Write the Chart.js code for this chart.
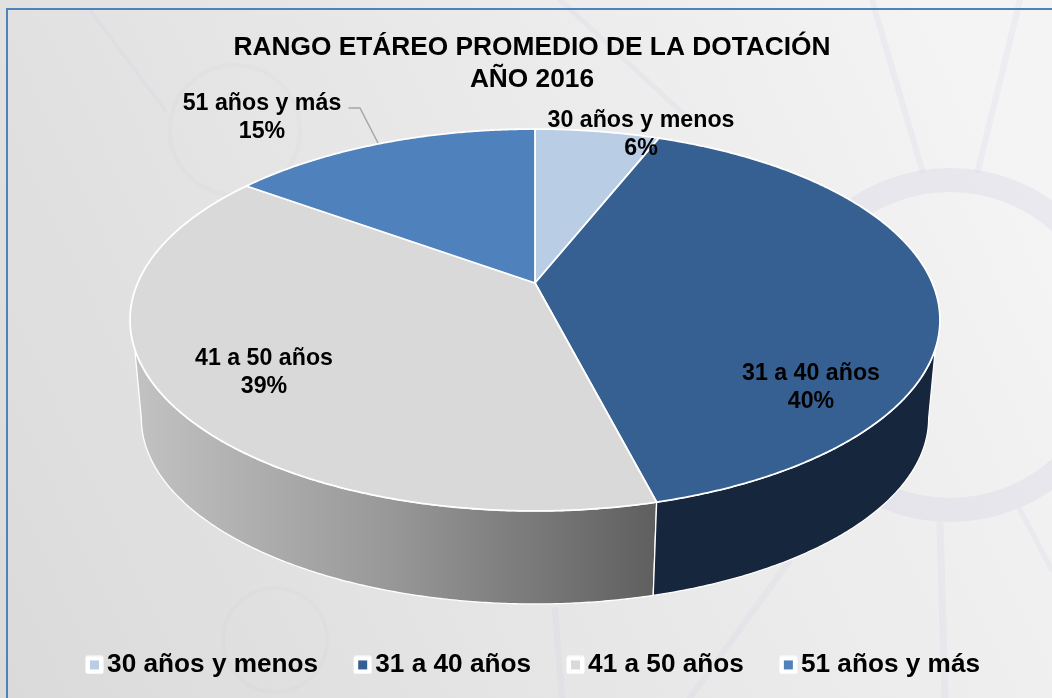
<!DOCTYPE html>
<html lang="es">
<head>
<meta charset="utf-8">
<title>Rango etáreo promedio de la dotación</title>
<style>html,body{margin:0;padding:0;background:#e6e6e6;overflow:hidden}canvas{display:block}</style>
<script src="https://cdn.jsdelivr.net/npm/chart.js@4"></script>
</head>
<body>
<canvas id="c" width="1052" height="698"></canvas>
<script>
const categories = ['30 años y menos', '31 a 40 años', '41 a 50 años', '51 años y más'];
const values = [6, 40, 39, 15];
const titleLines = ['RANGO ETÁREO PROMEDIO DE LA DOTACIÓN', 'AÑO 2016'];
const topColors = ['#b9cde5', '#376092', '#d9d9d9', '#4f81bd'];
const labelCentres = [[641, 135], [811, 388], [264, 373], [262, 118]];

const FONT = '"Liberation Sans", Arial, sans-serif';
const RAD = Math.PI / 180;

// Perspective projection of the pie's disc on to the picture
const P = {cx: 535, cy: 283, A: 397.3, B: 183.8, k: 0.1937, depth: 99.4, shrink: 0.972};
function project(theta, lower) {
  const u = Math.sin(theta), v = Math.cos(theta), w = 1 + P.k * v;
  const s = lower ? P.shrink : 1, dy = lower ? P.depth : 0;
  return [P.cx + s * P.A * u / w, P.cy + dy - s * P.B * v / w];
}
function trace(ctx, from, to, lower, first) {
  const n = Math.max(2, Math.ceil(Math.abs(to - from) / (0.4 * RAD)));
  for (let i = 0; i <= n; i++) {
    const p = project(from + (to - from) * i / n, lower);
    if (i === 0 && first) ctx.moveTo(p[0], p[1]); else ctx.lineTo(p[0], p[1]);
  }
}

function drawWall(ctx, a, b, aLow, bLow, fill) {
  ctx.beginPath();
  trace(ctx, a, b, false, true);
  trace(ctx, bLow, aLow, true, false);
  ctx.closePath();
  ctx.fillStyle = fill;
  ctx.fill();
  ctx.strokeStyle = '#ffffff';
  ctx.lineWidth = 1.3;
  ctx.stroke();
}

const scene = {
  id: 'scene',
  afterLayout(chart) {
    chart.legend.left += 4.5;
    chart.legend.right += 4.5;
  },
  beforeDraw(chart) {
    const ctx = chart.ctx, W = chart.width, H = chart.height;
    ctx.save();
    const g = ctx.createLinearGradient(0, H, W, 200);
    g.addColorStop(0, '#dadada');
    g.addColorStop(0.45, '#e6e6e6');
    g.addColorStop(1, '#f4f4f4');
    ctx.fillStyle = g;
    ctx.fillRect(0, 0, W, H);
    // faint network motif of the backdrop
    ctx.strokeStyle = 'rgba(205,205,228,0.2)';
    ctx.lineCap = 'round';
    const strokes = [
      [6, [[872, 0], [922, 170]]], [6, [[1020, 0], [978, 170]]],
      [7, [[940, 525], [945, 698]]], [5, [[1020, 510], [1052, 570]]],
      [6, [[790, 560], [690, 698]]], [6, [[555, 610], [562, 698]]],
      [5, [[560, 0], [690, 120]]], [3, [[90, 10], [165, 110]]]
    ];
    strokes.forEach(s => {
      ctx.lineWidth = s[0];
      ctx.beginPath();
      ctx.moveTo(s[1][0][0], s[1][0][1]);
      ctx.lineTo(s[1][1][0], s[1][1][1]);
      ctx.stroke();
    });
    ctx.lineWidth = 24;
    ctx.strokeStyle = 'rgba(205,205,228,0.28)';
    ctx.beginPath(); ctx.arc(950, 345, 165, 0, 2 * Math.PI); ctx.stroke();
    ctx.lineWidth = 4;
    ctx.strokeStyle = 'rgba(205,205,228,0.12)';
    ctx.beginPath(); ctx.arc(275, 640, 52, 0, 2 * Math.PI); ctx.stroke();
    ctx.beginPath(); ctx.arc(235, 130, 65, 0, 2 * Math.PI); ctx.stroke();
    // frame
    ctx.fillStyle = '#4f81bd';
    ctx.fillRect(6, 8, W - 6, 2);
    ctx.fillRect(6, 8, 2, H - 8);
    ctx.restore();
  },
  beforeDatasetDraw(chart, args) {
    const ctx = chart.ctx;
    const arcs = chart.getDatasetMeta(args.index).data;
    const t = arcs.map(a => [a.startAngle + Math.PI / 2, a.endAngle + Math.PI / 2]);
    ctx.save();
    ctx.lineJoin = 'round';

    // side walls: only the front-facing slices 2 and 3 are visible
    const shade = ctx.createLinearGradient(135, 0, 655, 0);
    shade.addColorStop(0, '#c2c2c2');
    shade.addColorStop(0.5, '#979797');
    shade.addColorStop(1, '#5f5f5f');
    drawWall(ctx, t[2][0], 250.4 * RAD, t[2][0], 258.8 * RAD, shade);
    drawWall(ctx, 109.6 * RAD, t[1][1], 101.2 * RAD, t[1][1], '#16263c');

    // top face
    arcs.forEach((a, i) => {
      ctx.beginPath();
      ctx.moveTo(P.cx, P.cy);
      trace(ctx, t[i][0], t[i][1], false, false);
      ctx.closePath();
      ctx.fillStyle = a.options.backgroundColor;
      ctx.fill();
      ctx.strokeStyle = '#ffffff';
      ctx.lineWidth = 1.8;
      ctx.stroke();
    });

    // leader line of the last label
    ctx.strokeStyle = '#a6a6a6';
    ctx.lineWidth = 1.5;
    ctx.beginPath();
    ctx.moveTo(348.5, 108);
    ctx.lineTo(360, 108);
    ctx.lineTo(378, 143);
    ctx.stroke();

    // data labels
    const total = values.reduce((s, v) => s + v, 0);
    ctx.fillStyle = '#000000';
    ctx.font = 'bold 23.2px ' + FONT;
    ctx.textAlign = 'center';
    ctx.textBaseline = 'middle';
    categories.forEach((name, i) => {
      const c = labelCentres[i];
      ctx.fillText(name, c[0], c[1] - 14);
      ctx.fillText(Math.round(values[i] / total * 100) + '%', c[0], c[1] + 14);
    });
    ctx.restore();
    return false;
  }
};

function legendMarker(color) {
  const m = document.createElement('canvas');
  m.width = 21; m.height = 19;
  const x = m.getContext('2d');
  x.fillStyle = '#ffffff';
  x.beginPath();
  x.roundRect(2.5, 0.5, 18, 18, 2);
  x.fill();
  x.fillStyle = color;
  x.fillRect(7, 5, 9, 9);
  return m;
}

new Chart(document.getElementById('c'), {
  type: 'pie',
  data: {
    labels: categories,
    datasets: [{data: values, backgroundColor: topColors, borderColor: '#ffffff', borderWidth: 1}]
  },
  options: {
    responsive: false,
    animation: false,
    layout: {padding: {left: 12, bottom: 10}},
    plugins: {
      tooltip: {enabled: false},
      title: {
        display: true,
        text: titleLines,
        color: '#000000',
        font: {family: FONT, size: 26.3, weight: 'bold', lineHeight: 1.22},
        padding: {top: 32, bottom: 6}
      },
      legend: {
        display: true,
        position: 'bottom',
        labels: {
          color: '#000000',
          font: {family: FONT, size: 26.2, weight: 'bold'},
          usePointStyle: true,
          boxWidth: 1,
          padding: 43,
          generateLabels(chart) {
            return categories.map((name, i) => ({
              text: name,
              fillStyle: topColors[i],
              strokeStyle: '#ffffff',
              lineWidth: 0,
              pointStyle: legendMarker(topColors[i]),
              hidden: false,
              index: i
            }));
          }
        }
      }
    }
  },
  plugins: [scene]
});
</script>
</body>
</html>
